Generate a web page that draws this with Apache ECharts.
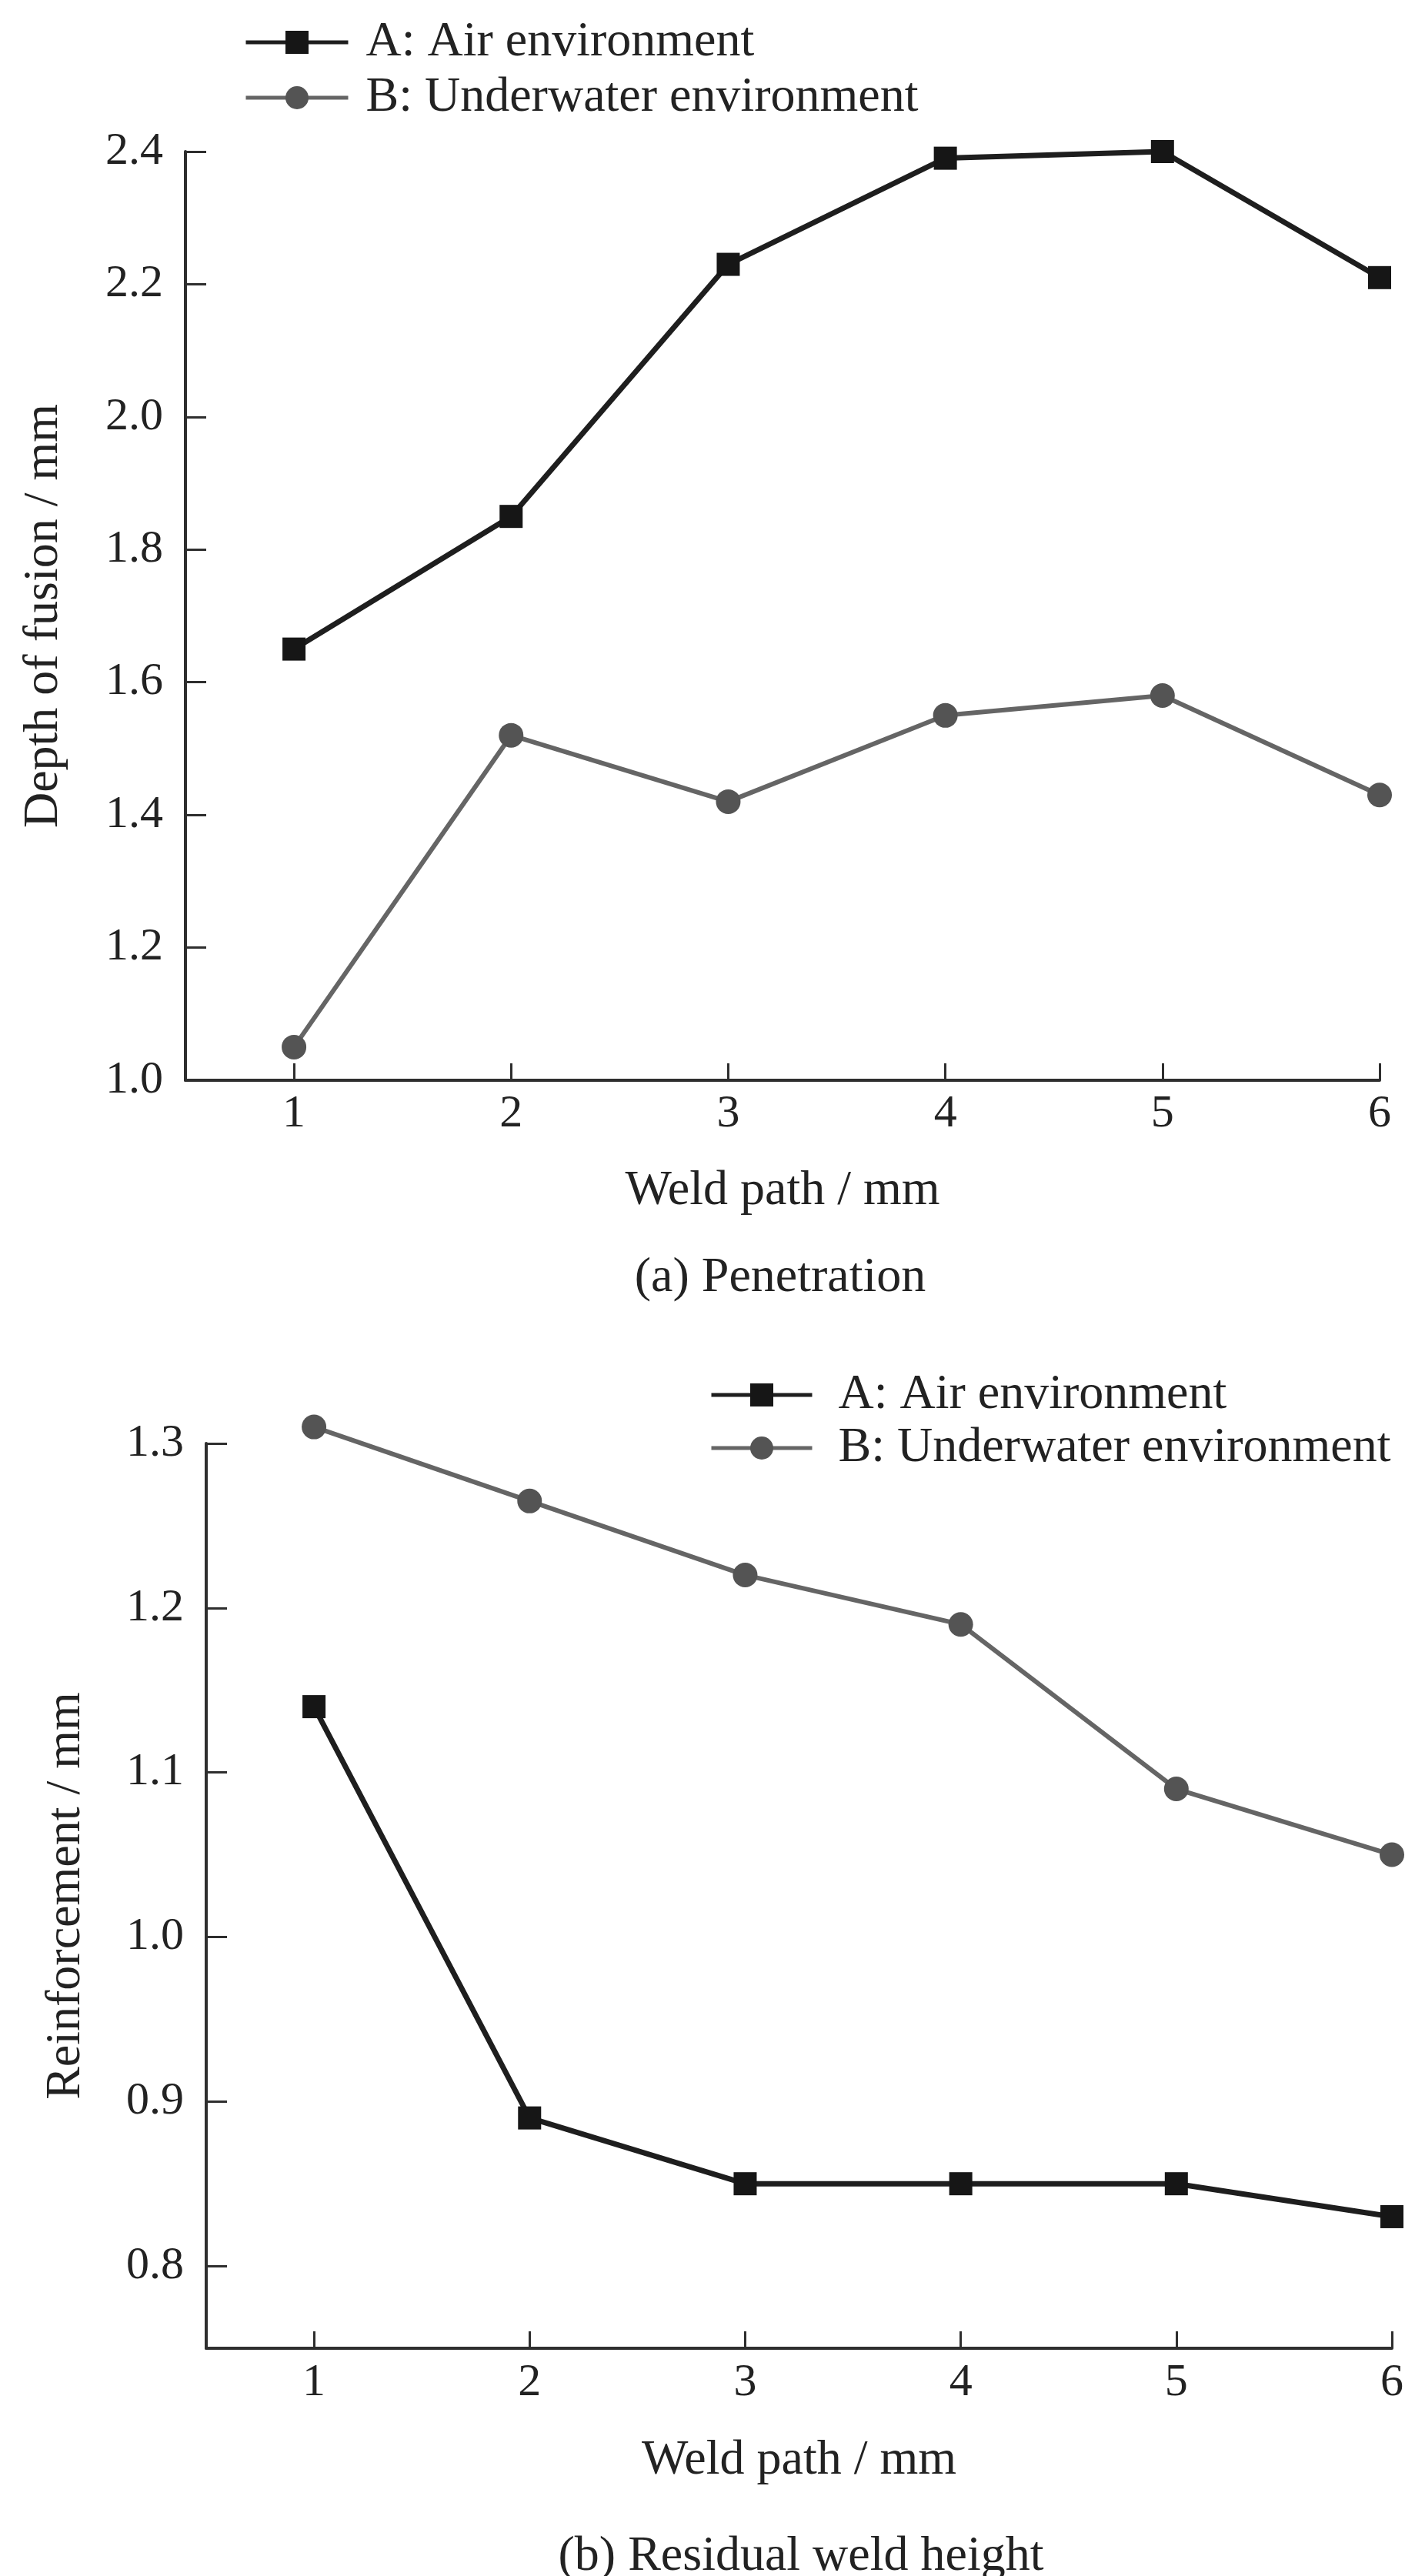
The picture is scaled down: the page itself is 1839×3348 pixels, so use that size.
<!DOCTYPE html>
<html>
<head>
<meta charset="utf-8">
<title>Penetration and residual weld height</title>
<script src="https://cdn.jsdelivr.net/npm/echarts@6/dist/echarts.min.js"></script>
<style>
  html, body { margin: 0; padding: 0; background: #fff; }
  #chart { width: 1839px; height: 3348px; }
</style>
</head>
<body>
<div id="chart"></div>
<script>
// Weld path positions (mm)
const weldPath = [1, 2, 3, 4, 5, 6];

// (a) Penetration: depth of fusion (mm)
const depthAir = [1.65, 1.85, 2.23, 2.39, 2.40, 2.21];
const depthWater = [1.05, 1.52, 1.42, 1.55, 1.58, 1.43];

// (b) Residual weld height: reinforcement (mm)
const reinfAir = [1.14, 0.89, 0.85, 0.85, 0.85, 0.83];
const reinfWater = [1.31, 1.265, 1.22, 1.19, 1.09, 1.05];

// Tick values
const pathTicks = [1, 2, 3, 4, 5, 6];
const depthTicks = [1.0, 1.2, 1.4, 1.6, 1.8, 2.0, 2.2, 2.4];
const reinfTicks = [0.8, 0.9, 1.0, 1.1, 1.2, 1.3];

const nameAir = 'A: Air environment';
const nameWater = 'B: Underwater environment';

const FONT = '"Liberation Serif", "Times New Roman", serif';
const INK = '#222222';
const AXIS = '#2e2e2e';
const AIR_LINE = '#1e1e1e';
const AIR_MARK = '#161616';
const WATER_LINE = '#656565';
const WATER_MARK = '#545454';

const pairs = (ys) => weldPath.map((x, i) => [x, ys[i]]);

function xAxisFor(gridIndex, labelMargin, nameGap) {
  return {
    type: 'value', gridIndex, min: 0.5, max: 6,
    name: 'Weld path / mm', nameLocation: 'middle', nameGap,
    nameTextStyle: { fontFamily: FONT, fontSize: 64, color: INK },
    axisLine: { show: true, onZero: false, lineStyle: { color: AXIS, width: 4 } },
    axisTick: { show: true, inside: true, length: 22, customValues: pathTicks,
                lineStyle: { color: AXIS, width: 3 } },
    axisLabel: { show: true, margin: labelMargin, customValues: pathTicks,
                 fontFamily: FONT, fontSize: 60, color: INK },
    splitLine: { show: false }
  };
}

function yAxisFor(gridIndex, name, min, max, ticks, nameGap) {
  return {
    type: 'value', gridIndex, min, max,
    name, nameLocation: 'middle', nameGap, nameRotate: 90,
    nameTextStyle: { fontFamily: FONT, fontSize: 64, color: INK },
    axisLine: { show: true, onZero: false, lineStyle: { color: AXIS, width: 4 } },
    axisTick: { show: true, inside: true, length: 27, customValues: ticks,
                lineStyle: { color: AXIS, width: 3 } },
    axisLabel: { show: true, margin: 29, customValues: ticks,
                 formatter: (v) => Number(v).toFixed(1),
                 fontFamily: FONT, fontSize: 60, color: INK },
    splitLine: { show: false }
  };
}

function airSeries(xi, data) {
  return {
    name: nameAir, type: 'line', xAxisIndex: xi, yAxisIndex: xi, data,
    symbol: 'rect', symbolSize: 30, clip: false,
    lineStyle: { color: AIR_LINE, width: 7 },
    itemStyle: { color: AIR_MARK },
    z: 3
  };
}

function waterSeries(xi, data) {
  return {
    name: nameWater, type: 'line', xAxisIndex: xi, yAxisIndex: xi, data,
    symbol: 'circle', symbolSize: 32, clip: false,
    lineStyle: { color: WATER_LINE, width: 6 },
    itemStyle: { color: WATER_MARK },
    z: 2
  };
}

function legendAt(left, top, itemWidth, itemGap, textPad) {
  return {
    data: [
      { name: nameAir, lineStyle: { width: 5, color: AIR_LINE } },
      { name: nameWater, lineStyle: { width: 5, color: WATER_LINE } }
    ],
    orient: 'vertical',
    left, top, padding: 0, itemGap,
    itemWidth, itemHeight: 37.5,
    selectedMode: false,
    lineStyle: { width: 5 },
    textStyle: { fontFamily: FONT, fontSize: 64, color: INK, padding: [0, 0, 0, textPad] }
  };
}

const chart = echarts.init(document.getElementById('chart'), null, { renderer: 'canvas' });

chart.setOption({
  animation: false,
  backgroundColor: '#ffffff',
  grid: [
    { left: 241, right: 46, top: 197, bottom: 1944, containLabel: false, outerBoundsMode: 'none' },
    { left: 268, right: 30, top: 1876, bottom: 296, containLabel: false, outerBoundsMode: 'none' }
  ],
  legend: [
    legendAt(317, 23, 133, 8, 18),
    legendAt(922, 1781, 131, 5, 29)
  ],
  xAxis: [
    xAxisFor(0, 14, 112),
    xAxisFor(1, 15, 114)
  ],
  yAxis: [
    yAxisFor(0, 'Depth of fusion / mm', 1.0, 2.4, depthTicks, 152),
    yAxisFor(1, 'Reinforcement / mm', 0.75, 1.3, reinfTicks, 150)
  ],
  series: [
    airSeries(0, pairs(depthAir)),
    waterSeries(0, pairs(depthWater)),
    airSeries(1, pairs(reinfAir)),
    waterSeries(1, pairs(reinfWater))
  ],
  graphic: [
    { type: 'text', x: 1014, y: 1629,
      style: { text: '(a) Penetration', align: 'center', verticalAlign: 'top',
               fontFamily: FONT, fontSize: 64, fill: INK } },
    { type: 'text', x: 1041, y: 3291,
      style: { text: '(b) Residual weld height', align: 'center', verticalAlign: 'top',
               fontFamily: FONT, fontSize: 64, fill: INK } }
  ]
});
</script>
</body>
</html>
